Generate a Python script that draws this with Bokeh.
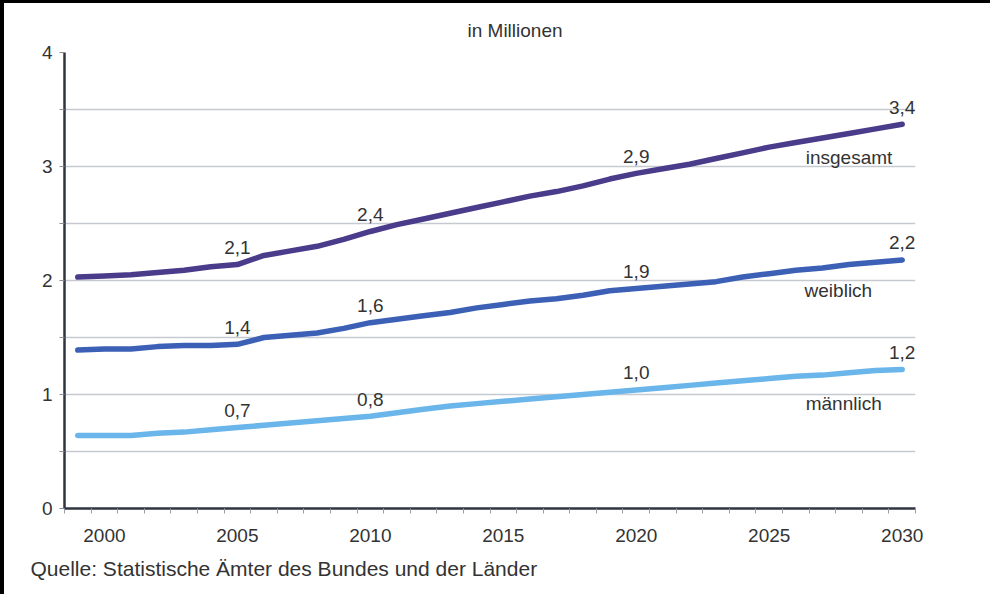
from bokeh.plotting import figure
from bokeh.models import FixedTicker, Label, LabelSet, ColumnDataSource, Range1d, Title
from bokeh.core.properties import value
from bokeh.embed import file_html
from bokeh.resources import INLINE

# ---- data ----
years = list(range(1999, 2031))
insgesamt = [2.03, 2.04, 2.05, 2.07, 2.09, 2.12, 2.14, 2.22, 2.26, 2.30, 2.36, 2.43,
             2.49, 2.54, 2.59, 2.64, 2.69, 2.74, 2.78, 2.83, 2.89, 2.94, 2.98, 3.02,
             3.07, 3.12, 3.17, 3.21, 3.25, 3.29, 3.33, 3.37]
weiblich = [1.39, 1.40, 1.40, 1.42, 1.43, 1.43, 1.44, 1.50, 1.52, 1.54, 1.58, 1.63,
            1.66, 1.69, 1.72, 1.76, 1.79, 1.82, 1.84, 1.87, 1.91, 1.93, 1.95, 1.97,
            1.99, 2.03, 2.06, 2.09, 2.11, 2.14, 2.16, 2.18]
maennlich = [0.64, 0.64, 0.64, 0.66, 0.67, 0.69, 0.71, 0.73, 0.75, 0.77, 0.79, 0.81,
             0.84, 0.87, 0.90, 0.92, 0.94, 0.96, 0.98, 1.00, 1.02, 1.04, 1.06, 1.08,
             1.10, 1.12, 1.14, 1.16, 1.17, 1.19, 1.21, 1.22]
series_names = ["insgesamt", "weiblich", "männlich"]
label_years = [2005, 2010, 2020, 2030]
x_tick_years = [2000, 2005, 2010, 2015, 2020, 2025, 2030]
y_ticks = [0, 1, 2, 3, 4]
unit_text = "in Millionen"
source_text = "Quelle: Statistische Ämter des Bundes und der Länder"

FONT = "Liberation Sans"
TXT = "#333333"
colors = ["#4a3c8b", "#3c60b6", "#6ab5ea"]

p = figure(frame_width=851, frame_height=456,
           x_range=Range1d(1998.5, 2030.5), y_range=Range1d(0, 4),
           output_backend="svg", toolbar_location=None,
           min_border_left=60, min_border_right=75, min_border_top=49, min_border_bottom=86)
p.styles = {"border-left": "4px solid #000000", "border-top": "3px solid #000000"}
p.background_fill_color = "white"
p.border_fill_color = "white"
p.outline_line_color = None

# x axis
p.xaxis.ticker = FixedTicker(ticks=x_tick_years,
                             minor_ticks=[y + 0.5 for y in range(1998, 2031)])
p.xaxis.major_tick_line_color = None
p.xaxis.major_tick_out = 0
p.xaxis.major_tick_in = 0
p.xaxis.minor_tick_out = 5
p.xaxis.minor_tick_in = 0
p.xaxis.minor_tick_line_color = "#9a9da3"
p.xaxis.major_label_standoff = 15

# y axis
p.yaxis.ticker = FixedTicker(ticks=y_ticks, minor_ticks=[v + 0.5 for v in range(0, 4)])
p.yaxis.major_tick_out = 5
p.yaxis.major_tick_in = 0
p.yaxis.minor_tick_out = 5
p.yaxis.minor_tick_in = 0
p.yaxis.major_tick_line_color = "#8a8d93"
p.yaxis.minor_tick_line_color = "#8a8d93"
p.yaxis.major_label_standoff = 7

for ax in (p.xaxis, p.yaxis):
    ax.axis_line_color = "#2f3540"
    ax.axis_line_width = 2.5
    ax.major_label_text_font = FONT
    ax.major_label_text_font_size = "19px"
    ax.major_label_text_color = TXT

p.xgrid.grid_line_color = None
p.ygrid.ticker = FixedTicker(ticks=y_ticks, minor_ticks=[v + 0.5 for v in range(0, 4)])
p.ygrid.grid_line_color = "#c6c9cf"
p.ygrid.grid_line_width = 1.5
p.ygrid.minor_grid_line_color = "#c6c9cf"
p.ygrid.minor_grid_line_width = 1.5

all_series = [insgesamt, weiblich, maennlich]
for vals, col in zip(all_series, colors):
    p.line(years, vals, line_width=5.5, line_color=col, line_cap="round", line_join="round")

# value labels
lx, ly, lt = [], [], []
for vals in all_series:
    for yr in label_years:
        v = vals[years.index(yr)]
        lx.append(yr)
        ly.append(v)
        lt.append(f"{v:.1f}".replace(".", ","))
src = ColumnDataSource(dict(x=lx, y=ly, t=lt))
p.add_layout(LabelSet(x="x", y="y", text="t", source=src, y_offset=17,
                      text_align="center", text_baseline="middle",
                      text_font=value(FONT), text_font_size=value("19px"),
                      text_color=value(TXT)))

# series names
name_pos = [(2028.0, 3.08), (2027.6, 1.91), (2027.8, 0.92)]
for name, (nx, ny) in zip(series_names, name_pos):
    p.add_layout(Label(x=nx, y=ny, text=name, text_align="center", text_baseline="middle",
                       text_font=FONT, text_font_size="19px", text_color=TXT))

p.add_layout(Title(text=unit_text, align="left", offset=403, standoff=23,
                   text_font=FONT, text_font_size="19px", text_font_style="normal",
                   text_color=TXT), "above")
p.add_layout(Title(text=source_text, align="left", offset=-34, standoff=21,
                   text_font=FONT, text_font_size="21px", text_font_style="normal",
                   text_color=TXT), "below")

open("out.html", "w").write(file_html(p, INLINE))
